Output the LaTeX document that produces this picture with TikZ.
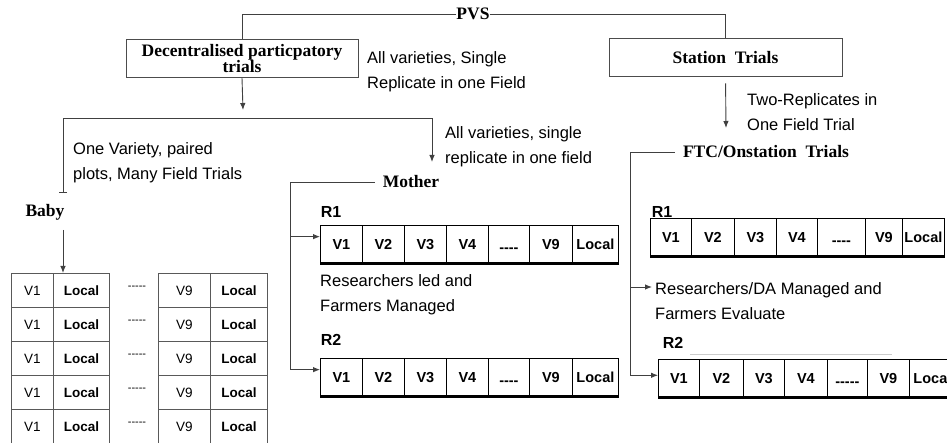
\documentclass[tikz,border=0pt]{standalone}
\usepackage{fontspec}
\setmainfont{Liberation Serif}
\newfontfamily\arialfont{Liberation Sans}
\usetikzlibrary{arrows.meta,calc}

\begin{document}
\begin{tikzpicture}[x=1pt,y=-1pt,
  note/.style={font=\arialfont\fontsize{16.5}{25}\selectfont, align=left, inner sep=0pt},
  head/.style={font=\bfseries\fontsize{17.5}{15}\selectfont, inner sep=0pt},
  hbox/.style={head, draw=black!70, line width=1pt, minimum height=38pt},
  rlab/.style={font=\arialfont\bfseries\fontsize{16}{16}\selectfont, inner sep=0pt},
  cell/.style={draw, line width=0.8pt, minimum height=38pt, inner sep=0pt, anchor=north west,
    font=\arialfont\bfseries\fontsize{14.5}{14.5}\selectfont},
  bcell/.style={draw=black!65, line width=0.8pt, minimum height=34pt, inner sep=0pt, anchor=north west,
    font=\arialfont\fontsize{13.5}{13.5}\selectfont},
  link/.style={draw=black!75, line width=0.9pt},
  arr/.style={link, -{Latex[length=7pt,width=5.5pt]}}]

		\useasboundingbox (0,0) rectangle (947,443);
		\clip (0,0) rectangle (947,443);

		% heads
		\node[head] (pvs) at (473,14) {PVS};
		\node[hbox, minimum width=232pt, align=center] (dec) at (242,58.5) {Decentralised particpatory\\trials};
		\node[hbox, minimum width=233pt] (stat) at (725.5,58) {Station\ \ Trials};
		\node[head] (baby) at (45,212) {Baby};
		\node[head] (mother) at (411,182) {Mother};
		\node[head] (ftc) at (766,152) {FTC/Onstation\ \ Trials};

		% notes
		\node[note, anchor=west] (n1) at (367,72) {All varieties, Single\\Replicate in one Field};
		\node[note, anchor=west] (n2) at (747,112) {Two-Replicates in\\One Field Trial};
		\node[note, anchor=west] (n3) at (73,163) {One Variety, paired\\plots, Many Field Trials};
		\node[note, anchor=west] (n4) at (445,147) {All varieties, single\\replicate in one field};
		\node[note, anchor=west] (n5) at (320,295) {Researchers led and\\Farmers Managed};
		\node[note, anchor=west] (n6) at (655,301) {Researchers/DA Managed and\\Farmers Evaluate};

		% replicate labels
		\node[rlab] (mr1) at (331,212) {R1};
		\node[rlab] (mr2) at (331,340) {R2};
		\node[rlab] (fr1) at (662,212) {R1};
		\node[rlab] (fr2) at (673,343) {R2};

		% mother trial plots
		\foreach \x/\w/\t [count=\i] in {320/42/V1, 362/42/V2, 404/42/V3, 446/42/V4, 488/41/{\smash{\raisebox{-8.5pt}{----}}}, 529/43/V9, 572/46/Local}
		  {\node[cell, minimum width=\w pt] (m1c\i) at (\x,225) {\t};
		   \node[cell, minimum width=\w pt] (m2c\i) at (\x,358) {\t};}
		\draw[line width=3pt] (m1c1.south west) -- (m1c7.south east);
		\draw[line width=3pt] (m2c1.south west) -- (m2c7.south east);

		% station trial plots
		\foreach \x/\w/\t [count=\i] in {650/41/V1, 691/43/V2, 734/42/V3, 776/41/V4, 817/48/{\smash{\raisebox{-8.5pt}{----}}}, 865/37/V9, 902/42/Local}
		  \node[cell, minimum width=\w pt] (f1c\i) at (\x,218) {\t};
		\foreach \x/\w/\t [count=\i] in {658/41/V1, 699/44/V2, 743/41/V3, 784/43/V4, 827/40/{\smash{\raisebox{-8.5pt}{-----}}}, 867/42/V9, 909/46/Local}
		  \node[cell, minimum width=\w pt] (f2c\i) at (\x,359) {\t};
		\draw[line width=3pt] (f1c1.south west) -- (f1c7.south east);
		\draw[line width=3pt] (f2c1.south west) -- (f2c7.south east);
		\draw[black!20, line width=0.8pt] (690,354) -- (892,354);

		% baby trial plots
		\foreach \y [count=\r] in {273,307,341,375,409}
		  {\node[bcell, minimum width=42pt] (bV\r) at (11,\y) {V1};
		   \node[bcell, minimum width=56pt] (bL\r) at (53,\y) {\bfseries Local};
		   \node[font=\arialfont\fontsize{11}{11}\selectfont] (bd\r) at (137,{\y+15}) {-----};
		   \node[bcell, minimum width=52pt] (bW\r) at (158,\y) {V9};
		   \node[bcell, minimum width=57pt] (bM\r) at (210,\y) {\bfseries Local};}

		% connectors
		\coordinate (split) at (243,110);
		\coordinate (babyend) at (63,193);
		\coordinate (fork) at (432,118);
		\coordinate (motherend) at (432,162);
		\coordinate (babystem) at (63,230);
		\coordinate (mbot) at (290,370);
		\coordinate (fbot) at (630,375);
		\coordinate (stationend) at (726,128);
		\coordinate (fin) at (652,287);
		\path ($(m1c1.north west)!0.3!(m1c1.south west)$) coordinate (m1in);
		\path ($(m2c1.north west)!0.3!(m2c1.south west)$) coordinate (m2in);
		\path ($(f2c1.north west)!0.42!(f2c1.south west)$) coordinate (f2in);

		\draw[link] (pvs.west) -| (dec.north);
		\draw[link] (pvs.east) -| (stat.north);
		\draw[arr] (dec.south) -- (split);
		\draw[link, {Bar[width=8pt]}-{Latex[length=7pt,width=5.5pt]}] (babyend) |- (fork) -- (motherend);
		\draw[arr] (babystem) -- (babystem |- bL1.north);
		\draw[link, shorten <=8pt] (mother.west) -| (mbot);
		\draw[arr] (m1in -| mbot) -- (m1in);
		\draw[arr] (m2in -| mbot) -- (m2in);
		\draw[arr, shorten <=6pt] (stat.south) -- (stationend);
		\draw[link, shorten <=8pt] (ftc.west) -| (fbot);
		\draw[arr] (fin -| fbot) -- (fin);
		\draw[arr] (f2in -| fbot) -- (f2in);
\end{tikzpicture}
\end{document}
